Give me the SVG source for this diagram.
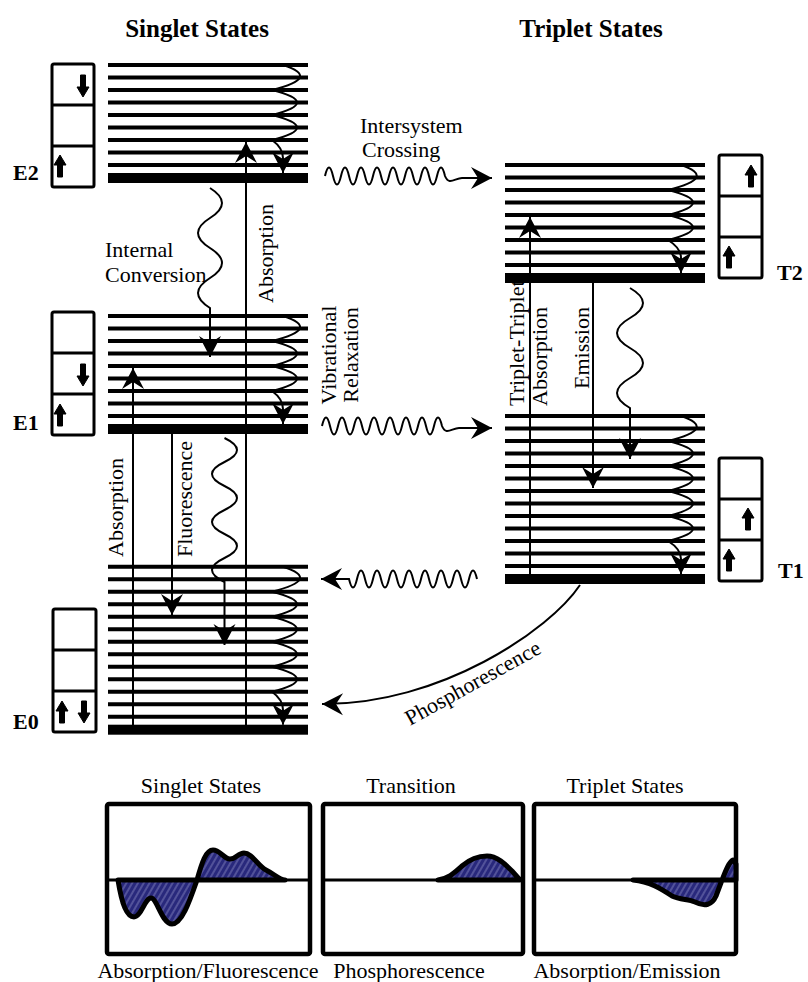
<svg xmlns="http://www.w3.org/2000/svg" width="808" height="982" viewBox="0 0 808 982">
<defs>
<style>
.lv{stroke:#000;stroke-width:4;fill:none}
.bar{fill:#000}
.box{fill:#fff;stroke:#000;stroke-width:3}
.dv{stroke:#000;stroke-width:3}
.ln{stroke:#000;stroke-width:2;fill:none;marker-end:url(#ah)}
.t{font-family:"Liberation Serif","Times New Roman",serif;font-size:22px;fill:#000}
.tb{font-family:"Liberation Serif","Times New Roman",serif;font-size:22px;font-weight:bold;fill:#000}
.tt{font-family:"Liberation Serif","Times New Roman",serif;font-size:25px;font-weight:bold;fill:#000}
.pn{fill:#fff;stroke:#000;stroke-width:4.5}
.ax{stroke:#000;stroke-width:3}
.cv{fill:url(#hatch);stroke:#000;stroke-width:5;stroke-linejoin:round}
.sp{fill:#000;stroke:#000;stroke-width:1;stroke-linejoin:round}
</style>
<marker id="ah" markerUnits="userSpaceOnUse" markerWidth="26" markerHeight="26" viewBox="-23 -13 26 26" refX="0" refY="0" orient="auto"><path d="M0,0 L-21,-11 L-14,0 L-21,11 Z" fill="#000"/></marker>
<path id="up" class="sp" d="M0,-11 L6,-1 L2.5,-1 L2.5,11 L-2.5,11 L-2.5,-1 L-6,-1 Z"/>
<path id="dn" class="sp" d="M0,11 L6,1 L2.5,1 L2.5,-11 L-2.5,-11 L-2.5,1 L-6,1 Z"/>
<pattern id="hatch" width="5" height="5" patternUnits="userSpaceOnUse" patternTransform="rotate(30)"><rect width="5" height="5" fill="#28287c"/><line x1="1" y1="0" x2="1" y2="5" stroke="#7c7cb8" stroke-width="1"/></pattern>
</defs>
<rect width="808" height="982" fill="#fff"/>

<g id="titles">
<text class="tt" x="197" y="37" text-anchor="middle">Singlet States</text>
<text class="tt" x="591" y="37" text-anchor="middle">Triplet States</text>
</g>

<g id="E2">
<path class="lv" d="M108,65H308M108,77.5H308M108,90H308M108,102.5H308M108,115H308M108,127.5H308M108,140H308M108,152.5H308M108,165H308"/>
<rect class="bar" x="108" y="173" width="200" height="10"/>
<rect class="box" x="52" y="64" width="42" height="123" rx="2"/>
<path class="dv" d="M52,105H94M52,146H94"/>
<use href="#dn" transform="translate(83,86)"/>
<use href="#up" transform="translate(60,166)"/>
<text class="tb" x="13" y="180">E2</text>
</g>

<g id="E1">
<path class="lv" d="M108,316H308M108,328.5H308M108,341H308M108,353.5H308M108,366H308M108,378.5H308M108,391H308M108,403.5H308M108,416H308"/>
<rect class="bar" x="108" y="424" width="200" height="10"/>
<rect class="box" x="52" y="312" width="42" height="123" rx="2"/>
<path class="dv" d="M52,353H94M52,394H94"/>
<use href="#dn" transform="translate(83,375)"/>
<use href="#up" transform="translate(60,415)"/>
<text class="tb" x="13" y="430">E1</text>
</g>

<g id="E0">
<path class="lv" d="M108,566.7H308M108,579.2H308M108,591.7H308M108,604.2H308M108,616.7H308M108,629.2H308M108,641.7H308M108,654.2H308M108,666.7H308M108,679.2H308M108,691.7H308M108,704.2H308M108,716.7H308"/>
<rect class="bar" x="108" y="724.7" width="200" height="10"/>
<rect class="box" x="53" y="609" width="43" height="123" rx="2"/>
<path class="dv" d="M53,650H96M53,691H96"/>
<use href="#up" transform="translate(62,712)"/>
<use href="#dn" transform="translate(84,712)"/>
<text class="tb" x="13" y="729">E0</text>
</g>

<g id="T2">
<path class="lv" d="M505,165H705M505,177.5H705M505,190H705M505,202.5H705M505,215H705M505,227.5H705M505,240H705M505,252.5H705M505,265H705"/>
<rect class="bar" x="505" y="273" width="200" height="10"/>
<rect class="box" x="719" y="155" width="43" height="123" rx="2"/>
<path class="dv" d="M719,196H762M719,237H762"/>
<use href="#up" transform="translate(751,176)"/>
<use href="#up" transform="translate(729,257)"/>
<text class="tb" x="777" y="280">T2</text>
</g>

<g id="T1">
<path class="lv" d="M505,416H705M505,428.5H705M505,441H705M505,453.5H705M505,466H705M505,478.5H705M505,491H705M505,503.5H705M505,516H705M505,528.5H705M505,541H705M505,553.5H705M505,566H705"/>
<rect class="bar" x="505" y="574" width="200" height="10"/>
<rect class="box" x="719" y="458" width="43" height="123" rx="2"/>
<path class="dv" d="M719,499H762M719,540H762"/>
<use href="#up" transform="translate(748,519)"/>
<use href="#up" transform="translate(729,560)"/>
<text class="tb" x="778" y="578">T1</text>
</g>

<g id="connectors">
<path class="ln" d="M283,65 Q322,77.5 272,90 Q322,102.5 272,115 Q322,127.5 272,140 Q283,148 283,158 L283,173"/>
<path class="ln" d="M283,316 Q322,328.5 272,341 Q322,353.5 272,366 Q322,378.5 272,391 Q283,399 283,409 L283,424"/>
<path class="ln" d="M283,566.7 Q322,579.2 272,591.7 Q322,604.2 272,616.7 Q322,629.2 272,641.7 Q322,654.2 272,666.7 Q322,679.2 272,691.7 Q283,699.7 283,709.7 L283,724.7"/>
<path class="ln" d="M681,165 Q718,177.5 668,190 Q718,202.5 668,215 Q718,227.5 668,240 Q681,248 681,258 L681,273"/>
<path class="ln" d="M681,416 Q718,428.5 668,441 Q718,453.5 668,466 Q718,478.5 668,491 Q718,503.5 668,516 Q718,528.5 668,541 Q681,549 681,559 L681,574"/>
<path class="ln" d="M246,729 L246,142"/>
<path class="ln" d="M133,729 L133,368"/>
<path class="ln" d="M172,429 L172,615"/>
<path class="ln" d="M530,579 L530,217"/>
<path class="ln" d="M593,278 L593,488"/>
<path class="ln" d="M210,188 Q234,203 210,218 T210,248 T210,278 T210,308 L210,357"/>
<path class="ln" d="M224.5,438 Q249.5,450 224.5,462 T224.5,486 T224.5,510 T224.5,534 T224.5,558 T224.5,582 L224.5,645"/>
<path class="ln" d="M630,288 Q656,303 630,318 T630,348 T630,378 T630,408 L630,459"/>
<path class="ln" d="M325,176 Q329,159 333,176 T341,176 T349,176 T357,176 T365,176 T373,176 T381,176 T389,176 T397,176 T405,176 T413,176 T421,176 T429,176 T437,176 T445,176 C449,186 455,178 462,178 L492,178"/>
<path class="ln" d="M322,426 Q326,409 330,426 T338,426 T346,426 T354,426 T362,426 T370,426 T378,426 T386,426 T394,426 T402,426 T410,426 T418,426 T426,426 T434,426 T442,426 C446,436 452,428 459,428 L492,428"/>
<path class="ln" d="M477,579 Q473,562 469,579 T461,579 T453,579 T445,579 T437,579 T429,579 T421,579 T413,579 T405,579 T397,579 T389,579 T381,579 T373,579 T365,579 T357,579 T349,579 L321,579"/>
<path class="ln" d="M580,585 C550,630 440,705 322,704"/>
</g>

<g id="connector-labels">
<text class="t" x="360" y="133">Intersystem</text>
<text class="t" x="362" y="157">Crossing</text>
<text class="t" x="105" y="257">Internal</text>
<text class="t" x="105" y="282">Conversion</text>
<text class="t" transform="translate(273,303) rotate(-90)">Absorption</text>
<text class="t" text-anchor="middle" transform="translate(336,355) rotate(-90)">Vibrational</text>
<text class="t" text-anchor="middle" transform="translate(358,355) rotate(-90)">Relaxation</text>
<text class="t" transform="translate(123,557) rotate(-90)">Absorption</text>
<text class="t" transform="translate(192,557) rotate(-90)">Fluorescence</text>
<text class="t" transform="translate(524,406) rotate(-90)">Triplet-Triplet</text>
<text class="t" transform="translate(547,406) rotate(-90)">Absorption</text>
<text class="t" transform="translate(589,389) rotate(-90)">Emission</text>
<text class="t" transform="translate(410,726) rotate(-29)">Phosphorescence</text>
</g>

<g id="panel-singlet">
<text class="t" x="201" y="793" text-anchor="middle">Singlet States</text>
<rect class="pn" x="107" y="804" width="203" height="150" rx="2"/>
<line class="ax" x1="107" y1="880" x2="310" y2="880"/>
<path class="cv" d="M118,880 C122,905 127,917 134,917 C141,917 145,898 151,898 C157,898 162,924 172,924 C182,924 190,900 197,880 C202,862 206,850 213,850 C220,850 224,859 230,859 C236,859 238,853 244,853 C252,853 258,866 266,870 C274,874 280,880 285,880 Z"/>
<text class="t" x="208" y="978" text-anchor="middle">Absorption/Fluorescence</text>
</g>

<g id="panel-transition">
<text class="t" x="411" y="793" text-anchor="middle">Transition</text>
<rect class="pn" x="323" y="804" width="200" height="150" rx="2"/>
<line class="ax" x1="323" y1="880" x2="523" y2="880"/>
<path class="cv" d="M438,880 C450,878 455,872 462,866 C470,859 478,856 487,856 C497,856 505,864 512,871 L520,880 Z"/>
<text class="t" x="409" y="978" text-anchor="middle">Phosphorescence</text>
</g>

<g id="panel-triplet">
<text class="t" x="625" y="793" text-anchor="middle">Triplet States</text>
<rect class="pn" x="534" y="804" width="202" height="150" rx="2"/>
<line class="ax" x1="534" y1="880" x2="736" y2="880"/>
<path class="cv" d="M633,880 C650,882 660,888 672,896 C680,900 688,899 695,902 C705,907 712,905 716,896 L722,880 C726,870 729,862 733,860 L736,864 L736,880 Z"/>
<text class="t" x="627" y="978" text-anchor="middle">Absorption/Emission</text>
</g>
</svg>
